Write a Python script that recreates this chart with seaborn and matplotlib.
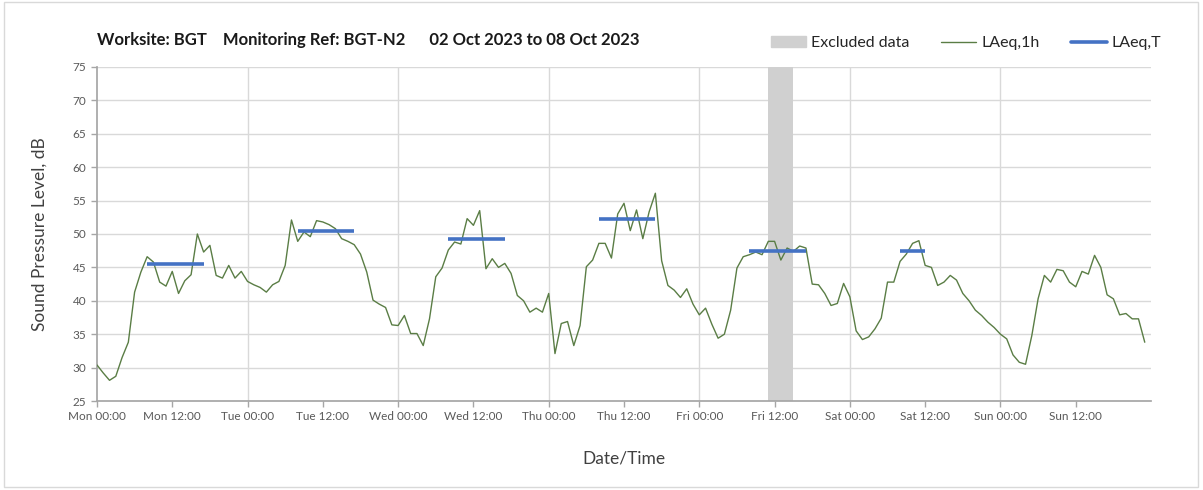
import numpy as np
import pandas as pd
import matplotlib.pyplot as plt
import matplotlib.patches as mpatches
from matplotlib.lines import Line2D
import seaborn as sns

# hourly LAeq,1h values, Mon 00:00 to Sun 23:00
laeq_1h = [
    30.4, 29.2, 28.1, 28.7, 31.5, 33.8, 41.3, 44.3, 46.6, 45.8, 42.8, 42.2,
    44.4, 41.1, 43.0, 43.9, 50.0, 47.3, 48.3, 43.8, 43.4, 45.3, 43.4, 44.4,
    42.9, 42.4, 42.0, 41.3, 42.4, 42.9, 45.3, 52.1, 48.9, 50.3, 49.6, 52.0,
    51.8, 51.4, 50.8, 49.3, 48.9, 48.4, 47.0, 44.3, 40.1, 39.5, 39.0, 36.4,
    36.3, 37.8, 35.1, 35.1, 33.3, 37.3, 43.6, 44.9, 47.6, 48.8, 48.5, 52.3,
    51.3, 53.5, 44.8, 46.3, 45.0, 45.6, 44.1, 40.8, 40.0, 38.3, 38.9, 38.3,
    41.1, 32.1, 36.6, 36.9, 33.3, 36.3, 45.1, 46.1, 48.6, 48.6, 46.4, 53.0,
    54.6, 50.5, 53.6, 49.3, 53.3, 56.1, 46.0, 42.3, 41.6, 40.5, 41.8, 39.5,
    37.9, 38.9, 36.5, 34.4, 35.0, 38.6, 44.9, 46.6, 46.9, 47.3, 46.9, 48.9,
    48.9, 46.1, 47.9, 47.4, 48.2, 47.9, 42.5, 42.4, 41.1, 39.3, 39.6, 42.6,
    40.6, 35.5, 34.2, 34.6, 35.8, 37.4, 42.8, 42.8, 45.9, 47.0, 48.6, 49.0,
    45.3, 45.0, 42.3, 42.8, 43.8, 43.1, 41.1, 40.0, 38.6, 37.8, 36.8, 36.0,
    35.0, 34.3, 31.9, 30.8, 30.5, 34.8, 40.3, 43.8, 42.8, 44.7, 44.5, 42.8,
    42.1, 44.4, 44.0, 46.8, 45.0, 40.9, 40.3, 37.9, 38.1, 37.3, 37.3, 33.8,
]
hours = list(range(len(laeq_1h)))

# LAeq,T daytime periods (start hour, end hour, level)
period_start = [8, 32, 56, 80, 104, 128]
period_end = [17, 41, 65, 89, 113, 132]
period_level = [45.5, 50.4, 49.3, 52.3, 47.4, 47.4]

# excluded data window (hours)
excluded_start = 107
excluded_end = 111

day_names = ['Mon', 'Tue', 'Wed', 'Thu', 'Fri', 'Sat', 'Sun']
tick_labels = [f'{d} {t}' for d in day_names for t in ['00:00', '12:00']]
tick_pos = list(range(0, 168, 12))

df = pd.DataFrame({'hour': hours, 'laeq': laeq_1h})

sns.set_theme(style='white')
plt.rcParams['font.family'] = ['Lato', 'DejaVu Sans']

fig = plt.figure(figsize=(12.03, 4.9), dpi=100)
ax = fig.add_axes([0.0806, 0.1816, 0.8762, 0.6817])

ax.axvspan(excluded_start, excluded_end, color='#d0d0d0', lw=0, zorder=1)

sns.lineplot(data=df, x='hour', y='laeq', ax=ax, color='#5a7d45', lw=1.0, zorder=3)

for s, e, v in zip(period_start, period_end, period_level):
    ax.plot([s, e], [v, v], color='#4472c4', lw=2.6, zorder=4, solid_capstyle='butt')

ax.set_xlim(0, 168)
ax.set_ylim(25, 75)
ax.set_yticks(range(25, 80, 5))
ax.set_xticks(tick_pos)
ax.set_xticklabels(tick_labels)
for d in range(24, 168, 24):
    ax.axvline(d, color='#d9d9d9', lw=1, zorder=0)
for y in range(30, 80, 5):
    ax.axhline(y, color='#d9d9d9', lw=1, zorder=0)

for side in ['top', 'right']:
    ax.spines[side].set_visible(False)
for side in ['left', 'bottom']:
    ax.spines[side].set_color('#a6a6a6')
ax.tick_params(axis='both', which='major', length=4, width=1, color='#a6a6a6',
               labelsize=8.5, labelcolor='#595959', direction='out')
ax.tick_params(axis='x', bottom=True)
ax.tick_params(axis='y', left=True)

ax.set_xlabel('Date/Time', fontsize=12.5, color='#404040', labelpad=20)
ax.set_ylabel('Sound Pressure Level, dB', fontsize=12.5, color='#404040', labelpad=18)

fig.text(0.0806, 0.918, 'Worksite: BGT    Monitoring Ref: BGT-N2      02 Oct 2023 to 08 Oct 2023',
         fontsize=12, fontweight='bold', color='#1a1a1a', va='center')

handles = [
    mpatches.Patch(color='#d0d0d0', label='Excluded data'),
    Line2D([0], [0], color='#5a7d45', lw=1.0, label='LAeq,1h'),
    Line2D([0], [0], color='#4472c4', lw=2.6, label='LAeq,T'),
]
fig.legend(handles=handles, loc='center right', bbox_to_anchor=(0.977, 0.912), ncol=3,
           frameon=False, fontsize=11.5, handlelength=2.2, handletextpad=0.3,
           columnspacing=2.0, labelcolor='#262626')

fig.patches.append(mpatches.Rectangle((0.003, 0.006), 0.993, 0.99, transform=fig.transFigure,
                                      fill=False, edgecolor='#d9d9d9', lw=1))

fig.savefig('out.png', dpi=100)
